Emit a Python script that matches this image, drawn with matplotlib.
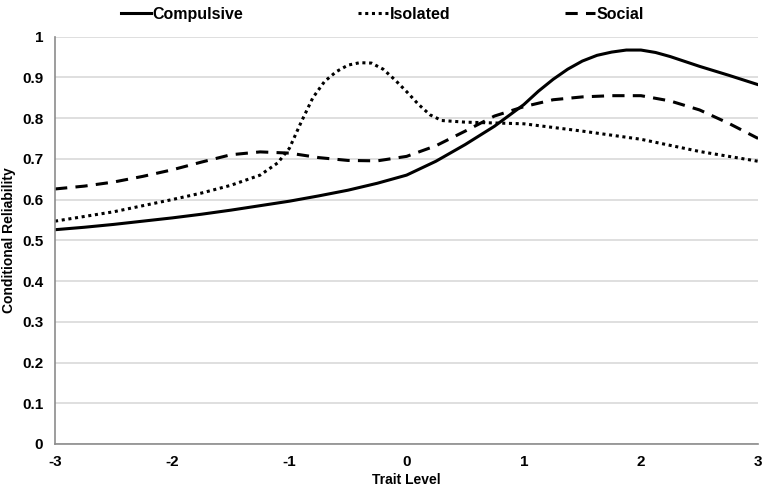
import matplotlib
matplotlib.use("Agg")
import matplotlib.pyplot as plt

plt.rcParams['font.family'] = ['Liberation Sans', 'DejaVu Sans']
plt.rcParams['font.weight'] = 'bold'

# Compulsive, with a finer grid around its peak
trait_compulsive = [-3, -2.75, -2.5, -2.25, -2, -1.75, -1.5, -1.25, -1, -0.75, -0.5,
                    -0.25, 0, 0.25, 0.5, 0.75, 1, 1.125, 1.25, 1.375, 1.5, 1.625,
                    1.75, 1.875, 2, 2.125, 2.25, 2.375, 2.5, 2.75, 3]
compulsive = [0.526, 0.532, 0.539, 0.547, 0.555, 0.564, 0.574, 0.585, 0.596, 0.609,
              0.623, 0.640, 0.660, 0.694, 0.735, 0.780, 0.833, 0.866, 0.895, 0.920,
              0.940, 0.954, 0.962, 0.967, 0.967, 0.961, 0.951, 0.939, 0.927, 0.905,
              0.882]

trait_social = [-3, -2.75, -2.5, -2.25, -2, -1.75, -1.5, -1.25, -1, -0.75, -0.5, -0.25,
                0, 0.25, 0.5, 0.75, 1, 1.25, 1.5, 1.75, 2, 2.25, 2.5, 2.75, 3]
social = [0.626, 0.633, 0.643, 0.657, 0.673, 0.692, 0.710, 0.717, 0.714, 0.703,
          0.696, 0.695, 0.706, 0.732, 0.768, 0.805, 0.828, 0.845, 0.852, 0.855,
          0.855, 0.842, 0.820, 0.787, 0.750]

# Isolated has a sharp peak, so it gets a denser grid around it
trait_isolated = [-3, -2.5, -2, -1.75, -1.5, -1.25, -1.1, -1.0, -0.9, -0.8, -0.7, -0.6,
                  -0.5, -0.4, -0.3, -0.2, -0.1, 0, 0.1, 0.2, 0.3, 0.5, 1, 1.5, 2, 2.5, 3]
isolated = [0.547, 0.570, 0.600, 0.616, 0.635, 0.660, 0.690, 0.726, 0.790, 0.850,
            0.890, 0.914, 0.930, 0.936, 0.935, 0.920, 0.894, 0.865, 0.834, 0.808,
            0.794, 0.790, 0.786, 0.768, 0.748, 0.718, 0.694]

x_ticks = [-3, -2, -1, 0, 1, 2, 3]
y_ticks = [0, 0.1, 0.2, 0.3, 0.4, 0.5, 0.6, 0.7, 0.8, 0.9, 1]
y_labels = ['0', '0.1', '0.2', '0.3', '0.4', '0.5', '0.6', '0.7', '0.8', '0.9', '1']

fig = plt.figure(figsize=(7.65, 4.92), dpi=100)
ax = fig.add_axes([0.072, 0.0976, 0.919, 0.828])

lw = 2.2
ax.plot(trait_compulsive, compulsive, color='black', lw=lw, label='Compulsive')
ax.plot(trait_isolated, isolated, color='black', lw=lw, linestyle=(0, (1, 1.2)),
        label='Isolated')
ax.plot(trait_social, social, color='black', lw=lw, linestyle=(0, (4, 2.7)),
        label='Social')

ax.set_xlim(-3, 3)
ax.set_ylim(0, 1)
ax.set_xticks(x_ticks)
ax.set_xticklabels([str(t) for t in x_ticks])
ax.set_yticks(y_ticks)
ax.set_yticklabels(y_labels)
ax.tick_params(length=0, labelsize=11, pad=8)
ax.tick_params(axis='y', pad=8.5)

ax.grid(axis='y', color='#d9d9d9', lw=1.2)
ax.set_axisbelow(True)
for side in ['top', 'right']:
    ax.spines[side].set_visible(False)
for side in ['left', 'bottom']:
    ax.spines[side].set_color('#8c8c8c')
    ax.spines[side].set_linewidth(1.2)

ax.set_xlabel('Trait Level', fontsize=10, fontweight='bold', labelpad=3)
ax.set_ylabel('Conditional Reliability', fontsize=10, fontweight='bold', labelpad=4)

fig.legend(loc='upper center', bbox_to_anchor=(0.5, 1.015), ncol=3, frameon=False,
           fontsize=11.5, handlelength=1.85, handletextpad=0.1, columnspacing=7.2)

fig.savefig('out.png', dpi=100)
